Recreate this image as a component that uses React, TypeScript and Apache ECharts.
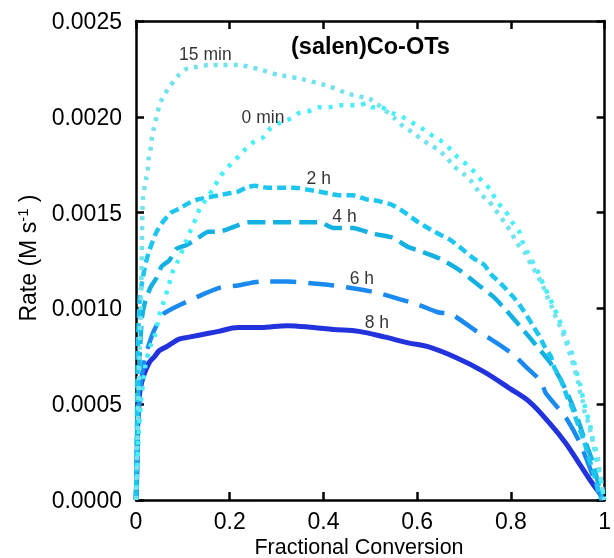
import React, { useEffect, useRef } from "react";
import * as echarts from "echarts";

const xTicks = [0, 0.2, 0.4, 0.6, 0.8, 1];
const yTicks = [0, 0.0005, 0.001, 0.0015, 0.002, 0.0025];

const seriesNames = ["15 min", "0 min", "2 h", "4 h", "6 h", "8 h"];

const min15: [number, number][] = [
  [0, 0], [0.004, 0.0004], [0.008, 0.0008], [0.01, 0.001], [0.012, 0.0012], [0.013, 0.0014],
  [0.0147, 0.00157], [0.021, 0.00167], [0.025, 0.00172], [0.027, 0.00178], [0.031, 0.00183],
  [0.034, 0.00189], [0.038, 0.00194], [0.044, 0.002], [0.05, 0.00206], [0.059, 0.00211],
  [0.073, 0.00216], [0.088, 0.00221], [0.107, 0.00225], [0.128, 0.00226], [0.155, 0.00227],
  [0.182, 0.00227], [0.218, 0.00227], [0.26, 0.00225], [0.302, 0.00222], [0.348, 0.0022],
  [0.411, 0.00216], [0.453, 0.00212], [0.501, 0.00209], [0.553, 0.00199], [0.57, 0.00195],
  [0.589, 0.00192], [0.623, 0.00186], [0.644, 0.00183], [0.662, 0.00179], [0.679, 0.00174],
  [0.7, 0.0017], [0.717, 0.00166], [0.734, 0.0016], [0.753, 0.00156], [0.786, 0.00145],
  [0.8, 0.0014], [0.813, 0.00134], [0.83, 0.00129], [0.843, 0.00123], [0.855, 0.00118],
  [0.868, 0.00112], [0.876, 0.00107], [0.887, 0.00101], [0.895, 0.00096], [0.906, 0.0009],
  [0.916, 0.00084], [0.922, 0.00079], [0.929, 0.00074], [0.943, 0.00062], [0.948, 0.00056],
  [0.954, 0.00051], [0.958, 0.00045], [0.966, 0.0004], [0.971, 0.00034], [0.977, 0.00029],
  [0.985, 0.00024], [0.987, 0.00019], [0.991, 0.00012], [0.996, 0.00005], [1.0, 0],
];

const min0: [number, number][] = [
  [0, 0], [0.005, 0.0003], [0.01, 0.0005], [0.02, 0.0007], [0.03, 0.0008], [0.04, 0.000856],
  [0.05, 0.000966], [0.057, 0.00102], [0.065, 0.00108], [0.071, 0.00113], [0.078, 0.00119],
  [0.088, 0.00124], [0.107, 0.00135], [0.117, 0.00141], [0.128, 0.00147], [0.136, 0.00152],
  [0.166, 0.00163], [0.18, 0.00169], [0.197, 0.00174], [0.214, 0.00178], [0.233, 0.00183],
  [0.252, 0.00187], [0.27, 0.00189], [0.287, 0.00194], [0.308, 0.00197], [0.329, 0.00199],
  [0.348, 0.00202], [0.369, 0.00203], [0.39, 0.00205], [0.411, 0.00205], [0.434, 0.00206],
  [0.455, 0.00206], [0.476, 0.00206], [0.491, 0.00207], [0.505, 0.00205], [0.522, 0.00205],
  [0.547, 0.00202], [0.568, 0.002], [0.589, 0.00197], [0.61, 0.00194], [0.627, 0.00191],
  [0.648, 0.00188], [0.667, 0.00184], [0.686, 0.00179], [0.706, 0.00175], [0.723, 0.00171],
  [0.74, 0.00166], [0.757, 0.00162], [0.769, 0.00156], [0.788, 0.00151], [0.803, 0.00145],
  [0.818, 0.0014], [0.826, 0.00134], [0.836, 0.00129], [0.849, 0.00123], [0.86, 0.00118],
  [0.87, 0.00112], [0.88, 0.00107], [0.891, 0.00101], [0.9, 0.00096], [0.91, 0.0009],
  [0.918, 0.00084], [0.927, 0.00079], [0.933, 0.00074], [0.94, 0.00067], [0.948, 0.0006],
  [0.954, 0.00053], [0.96, 0.00047], [0.969, 0.00039], [0.975, 0.00031], [0.981, 0.00023],
  [0.987, 0.00016], [0.994, 0.00008], [0.998, 0.00001],
];

const h2: [number, number][] = [
  [0, 0], [0.002, 0.0004], [0.004, 0.0008], [0.008, 0.00106], [0.0126, 0.00113],
  [0.0168, 0.00119], [0.021, 0.00124], [0.027, 0.00129], [0.034, 0.00134], [0.044, 0.0014],
  [0.057, 0.00145], [0.075, 0.0015], [0.092, 0.00152], [0.113, 0.00155], [0.134, 0.00157],
  [0.155, 0.00158], [0.176, 0.00159], [0.197, 0.0016], [0.218, 0.00161], [0.235, 0.00163],
  [0.254, 0.00164], [0.281, 0.00163], [0.308, 0.00163], [0.338, 0.00163], [0.365, 0.00162],
  [0.39, 0.00161], [0.411, 0.0016], [0.434, 0.00159], [0.463, 0.00159], [0.491, 0.00157],
  [0.518, 0.00156], [0.547, 0.00154], [0.574, 0.0015], [0.602, 0.00145], [0.637, 0.0014],
  [0.669, 0.00136], [0.696, 0.00131], [0.721, 0.00126], [0.742, 0.00123], [0.757, 0.00118],
  [0.774, 0.00114], [0.79, 0.0011], [0.805, 0.00106], [0.818, 0.00102], [0.832, 0.00097],
  [0.847, 0.00091], [0.862, 0.00085], [0.872, 0.0008], [0.885, 0.00075], [0.893, 0.00069],
  [0.906, 0.00063], [0.92, 0.00054], [0.931, 0.00048], [0.945, 0.00038], [0.956, 0.00031],
  [0.966, 0.00022], [0.977, 0.00014], [0.987, 0.00004], [0.994, 0],
];

const h4: [number, number][] = [
  [0, 0], [0.003, 0.0004], [0.007, 0.0007], [0.0126, 0.00095], [0.019, 0.00103],
  [0.031, 0.00111], [0.044, 0.00116], [0.055, 0.00122], [0.071, 0.00125], [0.086, 0.00131],
  [0.107, 0.00133], [0.128, 0.00136], [0.155, 0.0014], [0.176, 0.0014], [0.203, 0.00142],
  [0.239, 0.00145], [0.281, 0.00145], [0.323, 0.00145], [0.365, 0.00145], [0.392, 0.00145],
  [0.421, 0.00142], [0.463, 0.00142], [0.505, 0.00139], [0.547, 0.00137], [0.581, 0.00132],
  [0.606, 0.0013], [0.648, 0.00126], [0.69, 0.0012], [0.732, 0.00112], [0.763, 0.00106],
  [0.79, 0.00099], [0.822, 0.0009], [0.853, 0.00081], [0.883, 0.00072], [0.906, 0.00063],
  [0.927, 0.00052], [0.943, 0.00042], [0.958, 0.00031], [0.973, 0.00021], [0.985, 0.0001],
  [0.994, 0.00001],
];

const h6: [number, number][] = [
  [0, 0], [0.005, 0.0004], [0.01, 0.0006], [0.02, 0.00075], [0.036, 0.00087], [0.05, 0.00094],
  [0.057, 0.00097], [0.071, 0.00099], [0.078, 0.001], [0.113, 0.00104], [0.149, 0.00108],
  [0.182, 0.00111], [0.218, 0.00112], [0.266, 0.00114], [0.323, 0.00114], [0.379, 0.00113],
  [0.421, 0.00112], [0.476, 0.0011], [0.518, 0.00108], [0.56, 0.00105], [0.602, 0.00102],
  [0.644, 0.00098], [0.673, 0.00097], [0.727, 0.00088], [0.757, 0.00084], [0.805, 0.00076],
  [0.83, 0.0007], [0.864, 0.00062], [0.874, 0.00056], [0.904, 0.00047], [0.92, 0.00042],
  [0.945, 0.00031], [0.962, 0.00021], [0.979, 0.0001], [0.992, 0.00002],
];

const h8: [number, number][] = [
  [0, 0], [0.002, 0.00016], [0.003, 0.00031], [0.004, 0.00042], [0.006, 0.00052],
  [0.01, 0.00059], [0.015, 0.00064], [0.023, 0.00069], [0.029, 0.00072], [0.04, 0.00075],
  [0.05, 0.00078], [0.065, 0.0008], [0.078, 0.00082], [0.092, 0.00084], [0.113, 0.00085],
  [0.155, 0.00087], [0.176, 0.00088], [0.218, 0.0009], [0.266, 0.0009], [0.323, 0.00091],
  [0.379, 0.0009], [0.421, 0.00089], [0.476, 0.00088], [0.532, 0.00085], [0.581, 0.00082],
  [0.623, 0.0008], [0.686, 0.00074], [0.742, 0.00067], [0.799, 0.00058], [0.841, 0.00051],
  [0.883, 0.0004], [0.916, 0.0003], [0.946, 0.00019], [0.973, 0.00009], [0.994, 0.00002],
  [0.998, 0],
];

// label anchor points (data coordinates) for each curve's annotation
const labelPoints: [number, number][] = [
  [0.148, 0.00233], [0.271, 0.0020], [0.39, 0.00168], [0.445, 0.00148], [0.482, 0.00116], [0.514, 0.00093],
];

const FONT = "'Liberation Sans', Arial, Helvetica, sans-serif";

export default function App() {
  const ref = useRef<HTMLDivElement>(null);
  useEffect(() => {
    if (!ref.current) return;
    const chart = echarts.init(ref.current, undefined, { renderer: "svg" });
    const datasets = [min15, min0, h2, h4, h6, h8];
    const colors = ["#72e2ec", "#46eef8", "#1cc6f0", "#14b0e2", "#1a8af0", "#2233dd"];
    const dashes: any[] = [[4, 6], [4, 7], [9, 5], [18, 8], [26, 12], "solid"];
    const widths = [4.5, 4.5, 4.5, 4.5, 4.5, 5];
    const smooths = [0.2, 0.2, 0.2, 0.2, 0.2, 0.35];

    const lineSeries = datasets.map((d, i) => ({
      type: "line",
      name: seriesNames[i],
      data: d,
      showSymbol: false,
      symbol: "none",
      smooth: smooths[i],
      z: 10 - i,
      lineStyle: { color: colors[i], width: widths[i], type: dashes[i], cap: "butt", join: "round" },
    }));

    const labelSeries = {
      type: "scatter",
      data: labelPoints.map((p, i) => ({ value: p, name: seriesNames[i] })),
      symbolSize: 0,
      z: 20,
      label: {
        show: true,
        position: "inside",
        formatter: (p: any) => p.name,
        color: "#000",
        textBorderWidth: 0,
        fontSize: 17.5,
        fontFamily: FONT,
      },
    };

    const axisCommon = {
      type: "value",
      axisLine: { show: true, onZero: false, lineStyle: { color: "#000", width: 2.5 } },
      axisTick: { show: true, inside: true, length: 8, lineStyle: { color: "#000", width: 2.5 } },
      splitLine: { show: false },
    };

    chart.setOption({
      animation: false,
      grid: { left: 136, right: 2, top: 21, bottom: 58, containLabel: false },
      xAxis: [
        {
          ...axisCommon,
          position: "bottom",
          min: 0,
          max: 1,
          interval: 0.2,
          axisLabel: {
            color: "#000",
            fontSize: 23,
            fontFamily: FONT,
            margin: 9,
            formatter: (v: number) => (v === 0 ? "0" : v === 1 ? "1" : v.toFixed(1)),
          },
        },
        {
          ...axisCommon,
          position: "top",
          min: 0,
          max: 1,
          interval: 0.2,
          axisLabel: { show: false },
        },
      ],
      yAxis: [
        {
          ...axisCommon,
          position: "left",
          min: 0,
          max: 0.0025,
          interval: 0.0005,
          axisLabel: {
            color: "#000",
            fontSize: 23,
            fontFamily: FONT,
            margin: 14,
            formatter: (v: number) => v.toFixed(4),
          },
        },
        {
          ...axisCommon,
          position: "right",
          min: 0,
          max: 0.0025,
          interval: 0.0005,
          axisLabel: { show: false },
        },
      ],
      graphic: [
        {
          type: "text",
          left: 291,
          top: 34,
          style: { text: "(salen)Co-OTs", fontSize: 23.5, fontWeight: "bold", fontFamily: FONT, fill: "#000" },
          z: 30,
        },
        {
          type: "text",
          x: 359,
          y: 547,
          style: {
            text: "Fractional Conversion",
            fontSize: 21.5,
            fontFamily: FONT,
            fill: "#000",
            align: "center",
            verticalAlign: "middle",
          },
        },
        {
          type: "text",
          x: 28,
          y: 258,
          rotation: Math.PI / 2,
          style: {
            text: "Rate (M s{sup|-1} )",
            fontSize: 23,
            fontFamily: FONT,
            fill: "#000",
            align: "center",
            verticalAlign: "middle",
            rich: { sup: { fontSize: 15, fontFamily: FONT, verticalAlign: "top", padding: [0, 0, 12, 0] } },
          },
        },
      ],
      series: [...lineSeries, labelSeries],
    });
    return () => chart.dispose();
  }, []);
  return <div ref={ref} style={{ position: "fixed", left: 0, top: 0, width: 614, height: 558 }} />;
}
